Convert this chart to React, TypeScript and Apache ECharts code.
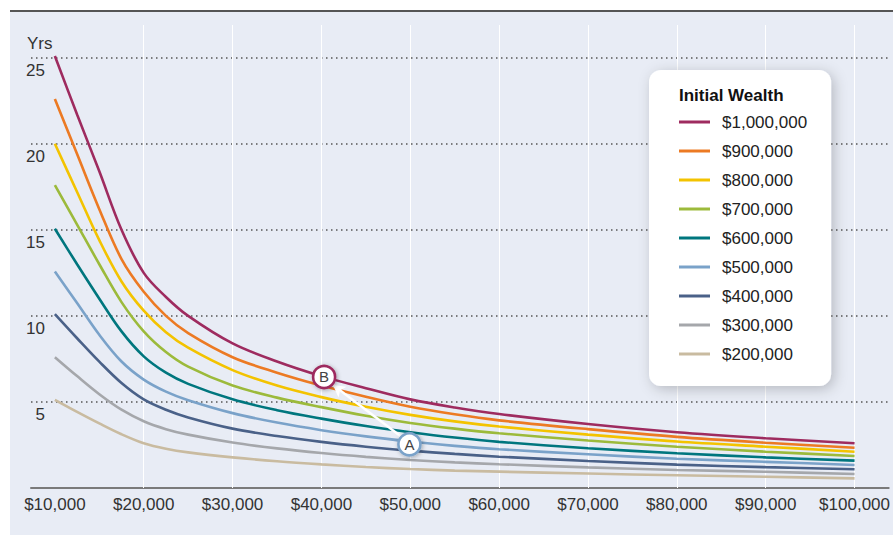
import React, { useEffect, useRef } from "react";
import * as echarts from "echarts";

const FONT = "'Liberation Sans', Arial, sans-serif";

const withdrawals = [10000, 12500, 15000, 17500, 20000, 22500, 25000, 30000, 35000, 40000, 45000, 50000, 55000, 60000, 70000, 80000, 90000, 100000];

const wealthLabels = ["$1,000,000", "$900,000", "$800,000", "$700,000", "$600,000", "$500,000", "$400,000", "$300,000", "$200,000"];
const lineColors = ["#9e2b5f", "#ec7a23", "#f3c300", "#9cba3b", "#00767e", "#7aa2c9", "#4a6188", "#a5a7ab", "#c9bba0"];

const yrs1000k = [25.1, 21.7, 18.4, 15.0, 12.5, 11.1, 10.0, 8.4, 7.35, 6.5, 5.8, 5.15, 4.68, 4.3, 3.72, 3.24, 2.89, 2.6];
const yrs900k = [22.6, 19.4, 16.2, 13.3, 11.4, 10.0, 9.0, 7.6, 6.7, 5.95, 5.3, 4.72, 4.28, 3.93, 3.42, 2.97, 2.63, 2.34];
const yrs800k = [20.0, 17.2, 14.4, 12.0, 10.3, 9.05, 8.15, 6.85, 5.95, 5.28, 4.72, 4.25, 3.87, 3.57, 3.1, 2.7, 2.4, 2.11];
const yrs700k = [17.6, 15.3, 13.0, 10.8, 9.1, 7.9, 7.05, 5.95, 5.25, 4.7, 4.2, 3.78, 3.45, 3.18, 2.76, 2.4, 2.11, 1.86];
const yrs600k = [15.06, 13.0, 11.0, 9.1, 7.65, 6.7, 6.05, 5.15, 4.52, 4.03, 3.6, 3.24, 2.93, 2.68, 2.31, 2.02, 1.78, 1.59];
const yrs500k = [12.58, 10.75, 8.9, 7.35, 6.3, 5.6, 5.1, 4.35, 3.8, 3.36, 3.0, 2.7, 2.45, 2.25, 1.96, 1.7, 1.52, 1.34];
const yrs400k = [10.1, 8.7, 7.34, 6.1, 5.15, 4.55, 4.1, 3.45, 3.02, 2.68, 2.4, 2.17, 1.98, 1.82, 1.57, 1.36, 1.21, 1.09];
const yrs300k = [7.6, 6.5, 5.45, 4.55, 3.88, 3.42, 3.1, 2.64, 2.3, 2.03, 1.81, 1.63, 1.49, 1.38, 1.2, 1.05, 0.94, 0.81];
const yrs200k = [5.12, 4.42, 3.75, 3.12, 2.6, 2.28, 2.07, 1.78, 1.55, 1.37, 1.22, 1.1, 1.01, 0.95, 0.84, 0.74, 0.65, 0.56];

const allYears = [yrs1000k, yrs900k, yrs800k, yrs700k, yrs600k, yrs500k, yrs400k, yrs300k, yrs200k];

const xGridValues = [20000, 30000, 40000, 50000, 60000, 70000, 80000, 90000, 100000];

// annotation anchors (data coordinates)
const pointB = [40300, 6.45];
const pointA = [49900, 2.54];
const arrowFrom = [49000, 2.98];
const arrowTo = [41300, 5.99];

export default function App() {
  const ref = useRef<HTMLDivElement>(null);

  useEffect(() => {
    if (!ref.current) return;
    const chart = echarts.init(ref.current, null, { renderer: "svg" });

    const series: any[] = wealthLabels.map((name, i) => ({
      name,
      type: "line",
      data: withdrawals.map((w, j) => [w, allYears[i][j]]),
      symbol: "none",
      smooth: 0.35,
      lineStyle: { color: lineColors[i], width: 2.6 },
      itemStyle: { color: lineColors[i] },
      z: 3,
    }));

    // vertical white grid lines
    series[series.length - 1].markLine = {
      silent: true,
      symbol: "none",
      z: 1,
      label: { show: false },
      lineStyle: { color: "#ffffff", width: 1, type: "solid" },
      data: xGridValues.map((v) => ({ xAxis: v })),
    };

    // arrow and annotation circles
    series[0].markLine = {
      silent: true,
      symbol: ["none", "arrow"],
      symbolSize: [10, 12],
      z: 6,
      label: { show: false },
      itemStyle: { color: "#ffffff" },
      lineStyle: { color: "#ffffff", width: 2.5, type: "solid" },
      data: [[{ coord: arrowFrom }, { coord: arrowTo }]],
    };
    const circleStyle = (c: string) => ({
      color: "#ffffff",
      borderColor: c,
      borderWidth: 2.6,
      shadowBlur: 4,
      shadowColor: "rgba(0,0,0,0.3)",
      shadowOffsetX: 1,
      shadowOffsetY: 1,
    });
    series[0].markPoint = {
      silent: true,
      symbol: "circle",
      symbolSize: 22,
      z: 7,
      label: {
        show: true,
        position: "inside",
        formatter: (p: any) => p.name,
        color: "#444",
        fontSize: 15,
        fontFamily: FONT,
      },
      data: [
        { name: "B", coord: pointB, itemStyle: circleStyle(lineColors[0]) },
        { name: "A", coord: pointA, itemStyle: circleStyle(lineColors[5]) },
      ],
    };

    chart.setOption({
      animation: false,
      grid: { left: 31, right: 0, top: 25, bottom: 47 },
      xAxis: {
        type: "value",
        min: 7313,
        max: 103840,
        splitNumber: 10,
        axisLine: { show: true, lineStyle: { color: "#7a7a7a", width: 2 } },
        axisTick: { show: false },
        splitLine: { show: false },
        axisLabel: {
          showMinLabel: false,
          showMaxLabel: false,
          formatter: (v: number) => (v % 10000 === 0 ? "$" + v.toLocaleString("en-US") : ""),
          color: "#333",
          fontSize: 17,
          fontFamily: FONT,
          margin: 8,
        },
      },
      yAxis: {
        type: "value",
        min: 0,
        max: 26.9,
        interval: 5,
        axisLine: { show: false },
        axisTick: { show: false },
        splitLine: {
          show: true,
          showMinLine: false,
          showMaxLine: false,
          lineStyle: { color: "#555", type: [1.5, 3.5], width: 1.5 },
        },
        axisLabel: {
          showMinLabel: false,
          showMaxLabel: false,
          formatter: (v: number) => (v > 0 && v % 5 === 0 ? String(v) : ""),
          align: "right",
          verticalAlign: "top",
          margin: -14,
          padding: [4, 0, 0, 0],
          color: "#333",
          fontSize: 17,
          fontFamily: FONT,
        },
      },
      legend: {
        orient: "vertical",
        left: 649,
        top: 70,
        padding: [42, 24, 22, 30],
        itemGap: 9,
        itemWidth: 31,
        itemHeight: 3,
        icon: "rect",
        backgroundColor: "#ffffff",
        borderRadius: 12,
        shadowBlur: 14,
        shadowColor: "rgba(0,0,0,0.22)",
        shadowOffsetX: 3,
        shadowOffsetY: 3,
        data: wealthLabels,
        selectedMode: false,
        textStyle: {
          color: "#222",
          fontSize: 17,
          lineHeight: 20,
          fontFamily: FONT,
          padding: [0, 0, 0, 7],
        },
      },
      graphic: [
        {
          type: "text",
          x: 679,
          y: 95,
          z: 20,
          style: {
            text: "Initial Wealth",
            fill: "#111",
            font: "bold 17px " + FONT,
            textVerticalAlign: "middle",
          },
        },
        {
          type: "text",
          x: 27,
          y: 43,
          z: 20,
          style: {
            text: "Yrs",
            fill: "#333",
            font: "17px " + FONT,
            textVerticalAlign: "middle",
          },
        },
      ],
      series,
    });

    return () => chart.dispose();
  }, []);

  return (
    <div style={{ position: "fixed", left: 0, top: 0, width: 893, height: 535, background: "#ffffff" }}>
      <div
        style={{
          position: "absolute",
          left: 10,
          top: 10,
          width: 883,
          height: 525,
          background: "#e8ecf5",
          borderTop: "2px solid #555",
          boxSizing: "border-box",
        }}
      />
      <div ref={ref} style={{ position: "absolute", left: 0, top: 0, width: 893, height: 535 }} />
    </div>
  );
}
